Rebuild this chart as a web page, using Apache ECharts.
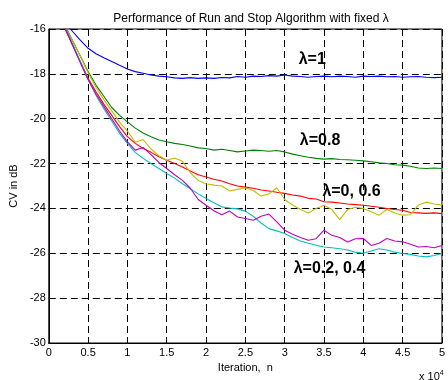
<!DOCTYPE html>
<html>
<head>
<meta charset="utf-8">
<script src="https://cdn.jsdelivr.net/npm/echarts@6/dist/echarts.min.js"></script>
<style>
html, body { margin: 0; padding: 0; background: #fff; }
#chart { width: 448px; height: 380px; }
</style>
</head>
<body>
<div id="chart"></div>
<script>
// iteration axis in units of 1e4
var iters = [0, 0.1, 0.2, 0.3, 0.4, 0.5, 0.6, 0.7, 0.8, 0.9,
    1.0, 1.1, 1.2, 1.3, 1.4, 1.5, 1.6, 1.7, 1.8, 1.9,
    2.0, 2.1, 2.2, 2.3, 2.4, 2.5, 2.6, 2.7, 2.8, 2.9,
    3.0, 3.1, 3.2, 3.3, 3.4, 3.5, 3.6, 3.7, 3.8, 3.9,
    4.0, 4.1, 4.2, 4.3, 4.4, 4.5, 4.6, 4.7, 4.8, 4.9, 5.0];

var cvLambda1 = [-14.9, -15.3, -15.7, -16.1, -16.5, -16.86, -17.1, -17.28, -17.45, -17.62,
    -17.78, -17.9, -17.97, -18.05, -18.1, -18.13, -18.18, -18.2, -18.17, -18.2,
    -18.18, -18.2, -18.16, -18.18, -18.12, -18.15, -18.1, -18.12, -18.08, -18.1,
    -18.05, -18.1, -18.12, -18.15, -18.12, -18.1, -18.13, -18.1, -18.12, -18.15,
    -18.1, -18.12, -18.1, -18.13, -18.12, -18.15, -18.13, -18.12, -18.15, -18.17, -18.15];

var cvLambda08 = [-14.4, -15.1, -15.8, -16.5, -17.2, -17.9, -18.5, -19.0, -19.5, -19.85,
    -20.14, -20.42, -20.64, -20.8, -20.95, -21.03, -21.1, -21.15, -21.22, -21.3,
    -21.33, -21.4, -21.36, -21.42, -21.48, -21.44, -21.4, -21.42, -21.45, -21.42,
    -21.48, -21.58, -21.65, -21.72, -21.77, -21.8, -21.78, -21.82, -21.83, -21.85,
    -21.88, -21.92, -21.97, -22.0, -22.05, -22.07, -22.12, -22.2, -22.22, -22.2, -22.22];

var cvLambda0 = [-14.4, -15.2, -15.95, -16.7, -17.45, -18.2, -18.8, -19.35, -19.85, -20.35,
    -20.8, -21.1, -21.33, -21.5, -21.7, -21.85, -22.0, -22.15, -22.33, -22.5,
    -22.6, -22.7, -22.78, -22.9, -23.0, -23.05, -23.1, -23.18, -23.22, -23.28,
    -23.33, -23.4, -23.45, -23.55, -23.58, -23.7, -23.72, -23.76, -23.8, -23.83,
    -23.86, -23.9, -23.95, -24.0, -24.05, -24.08, -24.18, -24.2, -24.22, -24.2, -24.23];

var cvLambda06 = [-14.5, -15.2, -15.85, -16.5, -17.2, -17.95, -18.6, -19.15, -19.65, -20.15,
    -20.55, -21.05, -20.93, -21.35, -21.65, -21.85, -21.75, -21.9, -22.4, -22.75,
    -22.9, -22.96, -23.0, -23.22, -23.15, -23.08, -23.2, -23.45, -23.35, -23.08,
    -23.6, -23.85, -24.05, -24.2, -24.0, -23.86, -24.05, -24.5, -24.05, -23.95,
    -24.0, -24.15, -24.3, -24.05, -24.2, -24.3, -24.28, -23.85, -23.72, -23.8, -23.85];

var cvLambda02 = [-14.3, -15.1, -15.9, -16.7, -17.5, -18.25, -18.9, -19.45, -20.0, -20.55,
    -21.03, -21.4, -21.28, -21.6, -21.95, -22.22, -22.5, -22.75, -23.1, -23.6,
    -23.86, -24.1, -24.28, -24.12, -24.38, -24.45, -24.53, -24.35, -24.25, -24.6,
    -24.97, -25.15, -25.3, -25.42, -25.35, -24.97, -25.2, -25.3, -25.5, -25.35,
    -25.34, -25.65, -25.55, -25.34, -25.45, -25.49, -25.6, -25.72, -25.7, -25.75, -25.65];

var cvLambda04 = [-14.2, -15.0, -15.85, -16.65, -17.45, -18.25, -18.95, -19.55, -20.1, -20.65,
    -21.1, -21.5, -21.77, -22.0, -22.22, -22.44, -22.65, -22.9, -23.12, -23.35,
    -23.56, -23.75, -23.93, -23.98, -24.02, -24.12, -24.35, -24.65, -24.9, -25.0,
    -25.12, -25.3, -25.45, -25.55, -25.64, -25.72, -25.75, -25.8, -25.85, -25.95,
    -26.0, -25.9, -25.8, -25.85, -25.95, -26.01, -26.05, -26.12, -26.16, -26.1, -26.01];

// curve annotations (text, x in 1e4, y in dB)
var noteText = ['\u03bb=1', '\u03bb=0.8', '\u03bb=0, 0.6', '\u03bb=0.2, 0.4'];
var noteX = [3.35, 3.45, 3.85, 3.57];
var noteY = [-17.38, -20.96, -23.23, -26.67];

var font = '"Liberation Sans", Arial, sans-serif';

function pairs(ys) {
    var out = [];
    for (var i = 0; i < ys.length; i++) {
        out.push([iters[i], ys[i]]);
    }
    return out;
}

function line(name, ys, color) {
    return {
        name: name,
        type: 'line',
        data: pairs(ys),
        symbol: 'none',
        clip: true,
        lineStyle: { color: color, width: 1.1 },
        itemStyle: { color: color },
        animation: false
    };
}

var dashed = { show: true, lineStyle: { color: '#000', type: [7, 4], width: 1 } };

var option = {
    backgroundColor: '#fff',
    animation: false,
    title: {
        text: 'Performance of Run and Stop Algorithm with fixed \u03bb',
        left: 246,
        top: 8,
        textAlign: 'center',
        textStyle: { fontFamily: font, fontSize: 12, fontWeight: 'normal', color: '#000' }
    },
    grid: {
        left: 47, right: 1, top: 29, bottom: 37,
        show: true, borderColor: '#000', borderWidth: 1, backgroundColor: 'transparent'
    },
    xAxis: {
        type: 'value',
        min: 0, max: 5, interval: 0.5,
        name: 'Iteration,  n',
        nameLocation: 'middle',
        nameGap: 17,
        nameTextStyle: { fontFamily: font, fontSize: 11, color: '#000' },
        axisLine: { show: true, onZero: false, lineStyle: { color: '#000', width: 1 } },
        axisTick: { show: true, inside: true, length: 4, lineStyle: { color: '#000' } },
        axisLabel: { margin: 4, fontFamily: font, fontSize: 11, color: '#000' },
        splitLine: dashed
    },
    yAxis: {
        type: 'value',
        min: -30, max: -16, interval: 2,
        name: 'CV in dB',
        nameLocation: 'middle',
        nameGap: 29,
        nameTextStyle: { fontFamily: font, fontSize: 11, color: '#000' },
        axisLine: { show: true, onZero: false, lineStyle: { color: '#000', width: 1 } },
        axisTick: { show: true, inside: true, length: 4, lineStyle: { color: '#000' } },
        axisLabel: { margin: 3, fontFamily: font, fontSize: 11, color: '#000' },
        splitLine: dashed
    },
    series: [
        line('lambda=1', cvLambda1, '#0000ff'),
        line('lambda=0.8', cvLambda08, '#008000'),
        line('lambda=0', cvLambda0, '#ff0000'),
        line('lambda=0.6', cvLambda06, '#bfbf00'),
        line('lambda=0.4', cvLambda04, '#00bfbf'),
        line('lambda=0.2', cvLambda02, '#bf00bf')
    ]
};

var chart = echarts.init(document.getElementById('chart'), null, { renderer: 'canvas' });
chart.setOption(option);

var graphics = [];
for (var i = 0; i < noteText.length; i++) {
    var p = chart.convertToPixel({ gridIndex: 0 }, [noteX[i], noteY[i]]);
    graphics.push({
        type: 'text',
        x: p[0], y: p[1],
        style: {
            text: noteText[i],
            fontFamily: font, fontSize: 16, fontWeight: 'bold',
            fill: '#000', align: 'center', verticalAlign: 'middle'
        }
    });
}
graphics.push({
    type: 'text',
    x: 419, y: 377,
    style: {
        text: 'x 10{s|4}',
        fontFamily: font, fontSize: 11, fill: '#000', verticalAlign: 'middle',
        rich: { s: { fontSize: 7, verticalAlign: 'top', padding: [0, 0, 8, 0], fontFamily: font } }
    }
});
chart.setOption({ graphic: graphics });
</script>
</body>
</html>
